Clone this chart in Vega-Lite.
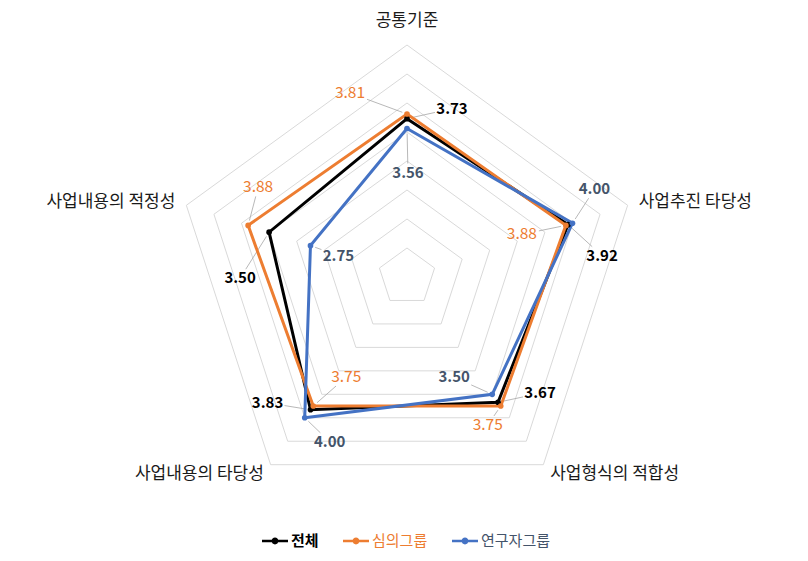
{
  "$schema": "https://vega.github.io/schema/vega-lite/v6.json",
  "width": 808,
  "height": 561,
  "autosize": {"type": "none"},
  "padding": 0,
  "background": "white",
  "config": {"view": {"stroke": null}, "font": "Noto Sans CJK KR"},
  "datasets": {
    "scores": [
      {"series": "전체", "axis": "공통기준", "idx": 0, "value": 3.73},
      {"series": "전체", "axis": "사업추진 타당성", "idx": 1, "value": 3.92},
      {"series": "전체", "axis": "사업형식의 적합성", "idx": 2, "value": 3.67},
      {"series": "전체", "axis": "사업내용의 타당성", "idx": 3, "value": 3.83},
      {"series": "전체", "axis": "사업내용의 적정성", "idx": 4, "value": 3.50},
      {"series": "심의그룹", "axis": "공통기준", "idx": 0, "value": 3.81},
      {"series": "심의그룹", "axis": "사업추진 타당성", "idx": 1, "value": 3.88},
      {"series": "심의그룹", "axis": "사업형식의 적합성", "idx": 2, "value": 3.75},
      {"series": "심의그룹", "axis": "사업내용의 타당성", "idx": 3, "value": 3.75},
      {"series": "심의그룹", "axis": "사업내용의 적정성", "idx": 4, "value": 3.88},
      {"series": "연구자그룹", "axis": "공통기준", "idx": 0, "value": 3.56},
      {"series": "연구자그룹", "axis": "사업추진 타당성", "idx": 1, "value": 4.00},
      {"series": "연구자그룹", "axis": "사업형식의 적합성", "idx": 2, "value": 3.50},
      {"series": "연구자그룹", "axis": "사업내용의 타당성", "idx": 3, "value": 4.00},
      {"series": "연구자그룹", "axis": "사업내용의 적정성", "idx": 4, "value": 2.75}
    ],
    "rings": [
      {"level": 1.5, "k": [0, 1, 2, 3, 4]},
      {"level": 2.0, "k": [0, 1, 2, 3, 4]},
      {"level": 2.5, "k": [0, 1, 2, 3, 4]},
      {"level": 3.0, "k": [0, 1, 2, 3, 4]},
      {"level": 3.5, "k": [0, 1, 2, 3, 4]},
      {"level": 4.0, "k": [0, 1, 2, 3, 4]},
      {"level": 4.5, "k": [0, 1, 2, 3, 4]},
      {"level": 5.0, "k": [0, 1, 2, 3, 4]}
    ],
    "axes": [
      {"idx": 0, "name": "공통기준"},
      {"idx": 1, "name": "사업추진 타당성"},
      {"idx": 2, "name": "사업형식의 적합성"},
      {"idx": 3, "name": "사업내용의 타당성"},
      {"idx": 4, "name": "사업내용의 적정성"}
    ]
  },
  "encoding": {
    "x": {"field": "px", "type": "quantitative", "axis": null, "scale": {"domain": [-7.0172, 6.9138], "nice": false, "zero": false}},
    "y": {"field": "py", "type": "quantitative", "axis": null, "scale": {"domain": [-4.8966, 4.7759], "nice": false, "zero": false}}
  },
  "layer": [
    {
      "data": {"name": "rings"},
      "transform": [
        {"flatten": ["k"]},
        {"calculate": "(datum.level-1)*sin(datum.k*2*PI/5)", "as": "px"},
        {"calculate": "(datum.level-1)*cos(datum.k*2*PI/5)", "as": "py"}
      ],
      "mark": {"type": "line", "interpolate": "linear-closed", "stroke": "#D9D9D9", "strokeWidth": 1},
      "encoding": {"detail": {"field": "level", "type": "nominal"}, "order": {"field": "k", "type": "quantitative"}}
    },
    {
      "data": {"name": "scores"},
      "transform": [
        {"calculate": "datum.idx*2*PI/5", "as": "ang"},
        {"calculate": "(datum.value-1)*sin(datum.ang)", "as": "px"},
        {"calculate": "(datum.value-1)*cos(datum.ang)", "as": "py"},
        {"calculate": "indexof(['전체','심의그룹','연구자그룹'], datum.series)", "as": "s"},
        {"calculate": "[[45,34,42,-43,-29],[-57,-44,-13,33,10],[1,22,-38,25,28]][datum.s][datum.idx]", "as": "ox"},
        {"calculate": "[[-10,31,-9,-7,46],[-21,9,19,-29,-38],[44,-34,-17,24,10]][datum.s][datum.idx]", "as": "oy"},
        {"calculate": "sqrt(datum.ox*datum.ox+datum.oy*datum.oy)", "as": "len"},
        {"calculate": "1-min(17/abs(datum.ox), 9/abs(datum.oy))", "as": "e"},
        {"calculate": "5/datum.len", "as": "st"},
        {"filter": "datum.e > datum.st"},
        {"calculate": "datum.px + datum.ox*datum.e/58", "as": "px2"},
        {"calculate": "datum.py - datum.oy*datum.e/58", "as": "py2"},
        {"calculate": "datum.px + datum.ox*datum.st/58", "as": "px"},
        {"calculate": "datum.py - datum.oy*datum.st/58", "as": "py"}
      ],
      "mark": {"type": "rule", "stroke": "#A6A6A6", "strokeWidth": 0.8},
      "encoding": {"x2": {"field": "px2"}, "y2": {"field": "py2"}}
    },
    {
      "data": {"name": "scores"},
      "transform": [
        {"calculate": "datum.idx*2*PI/5", "as": "ang"},
        {"calculate": "(datum.value-1)*sin(datum.ang)", "as": "px"},
        {"calculate": "(datum.value-1)*cos(datum.ang)", "as": "py"}
      ],
      "mark": {"type": "line", "interpolate": "linear-closed", "strokeWidth": 3},
      "encoding": {
        "color": {"field": "series", "type": "nominal", "scale": {"domain": ["전체", "심의그룹", "연구자그룹"], "range": ["#000000", "#ED7D31", "#4472C4"]}},
        "order": {"field": "idx", "type": "quantitative"}
      }
    },
    {
      "data": {"name": "scores"},
      "transform": [
        {"calculate": "datum.idx*2*PI/5", "as": "ang"},
        {"calculate": "(datum.value-1)*sin(datum.ang)", "as": "px"},
        {"calculate": "(datum.value-1)*cos(datum.ang)", "as": "py"}
      ],
      "mark": {"type": "point", "filled": true, "size": 32, "opacity": 1},
      "encoding": {
        "color": {
          "field": "series", "type": "nominal",
          "scale": {"domain": ["전체", "심의그룹", "연구자그룹"], "range": ["#000000", "#ED7D31", "#4472C4"]},
          "legend": {
            "title": null, "orient": "none", "legendX": 262, "legendY": 528, "direction": "horizontal",
            "symbolType": "M-1,-0.1H1V0.1H-1Z M0,-0.26A0.26,0.26 0 1,1 0,0.26A0.26,0.26 0 1,1 0,-0.26Z",
            "symbolSize": 676, "symbolStrokeWidth": 0, "symbolOpacity": 1,
            "labelFont": "Noto Sans CJK KR", "labelFontSize": 15, "labelOffset": 3, "columnPadding": 24,
            "labelColor": {"expr": "datum.label == '전체' ? '#000000' : datum.label == '심의그룹' ? '#ED7D31' : '#44546A'"},
            "labelFontWeight": {"expr": "datum.label == '전체' ? 'bold' : 'normal'"}
          }
        }
      }
    },
    {
      "data": {"name": "scores"},
      "transform": [
        {"filter": "datum.series == '전체'"},
        {"calculate": "datum.idx*2*PI/5", "as": "ang"},
        {"calculate": "[45,34,42,-43,-29][datum.idx]", "as": "ox"},
        {"calculate": "[-10,31,-9,-7,46][datum.idx]", "as": "oy"},
        {"calculate": "(datum.value-1)*sin(datum.ang) + datum.ox/58", "as": "px"},
        {"calculate": "(datum.value-1)*cos(datum.ang) - datum.oy/58", "as": "py"}
      ],
      "mark": {"type": "text", "fontSize": 15, "fontWeight": "bold", "color": "#000000", "align": "center", "baseline": "middle"},
      "encoding": {"text": {"field": "value", "type": "quantitative", "format": ".2f"}}
    },
    {
      "data": {"name": "scores"},
      "transform": [
        {"filter": "datum.series == '심의그룹'"},
        {"calculate": "datum.idx*2*PI/5", "as": "ang"},
        {"calculate": "[-57,-44,-13,33,10][datum.idx]", "as": "ox"},
        {"calculate": "[-21,9,19,-29,-38][datum.idx]", "as": "oy"},
        {"calculate": "(datum.value-1)*sin(datum.ang) + datum.ox/58", "as": "px"},
        {"calculate": "(datum.value-1)*cos(datum.ang) - datum.oy/58", "as": "py"}
      ],
      "mark": {"type": "text", "fontSize": 15.5, "fontWeight": "normal", "color": "#ED7D31", "align": "center", "baseline": "middle"},
      "encoding": {"text": {"field": "value", "type": "quantitative", "format": ".2f"}}
    },
    {
      "data": {"name": "scores"},
      "transform": [
        {"filter": "datum.series == '연구자그룹'"},
        {"calculate": "datum.idx*2*PI/5", "as": "ang"},
        {"calculate": "[1,22,-38,25,28][datum.idx]", "as": "ox"},
        {"calculate": "[44,-34,-17,24,10][datum.idx]", "as": "oy"},
        {"calculate": "(datum.value-1)*sin(datum.ang) + datum.ox/58", "as": "px"},
        {"calculate": "(datum.value-1)*cos(datum.ang) - datum.oy/58", "as": "py"}
      ],
      "mark": {"type": "text", "fontSize": 15, "fontWeight": "bold", "color": "#44546A", "align": "center", "baseline": "middle"},
      "encoding": {"text": {"field": "value", "type": "quantitative", "format": ".2f"}}
    },
    {
      "data": {"name": "axes"},
      "transform": [
        {"filter": "datum.idx == 0"},
        {"calculate": "4.2*sin(datum.idx*2*PI/5)", "as": "px"},
        {"calculate": "4.2*cos(datum.idx*2*PI/5)", "as": "py"}
      ],
      "mark": {"type": "text", "fontSize": 17, "color": "#1a1a1a", "align": "center", "baseline": "bottom", "dy": -3},
      "encoding": {"text": {"field": "name"}}
    },
    {
      "data": {"name": "axes"},
      "transform": [
        {"filter": "datum.idx == 1 || datum.idx == 2"},
        {"calculate": "4.2*sin(datum.idx*2*PI/5)", "as": "px"},
        {"calculate": "4.2*cos(datum.idx*2*PI/5)", "as": "py"}
      ],
      "mark": {"type": "text", "fontSize": 17, "color": "#1a1a1a", "align": "left", "baseline": "middle"},
      "encoding": {"text": {"field": "name"}}
    },
    {
      "data": {"name": "axes"},
      "transform": [
        {"filter": "datum.idx == 3 || datum.idx == 4"},
        {"calculate": "4.2*sin(datum.idx*2*PI/5)", "as": "px"},
        {"calculate": "4.2*cos(datum.idx*2*PI/5)", "as": "py"}
      ],
      "mark": {"type": "text", "fontSize": 17, "color": "#1a1a1a", "align": "right", "baseline": "middle"},
      "encoding": {"text": {"field": "name"}}
    }
  ]
}
